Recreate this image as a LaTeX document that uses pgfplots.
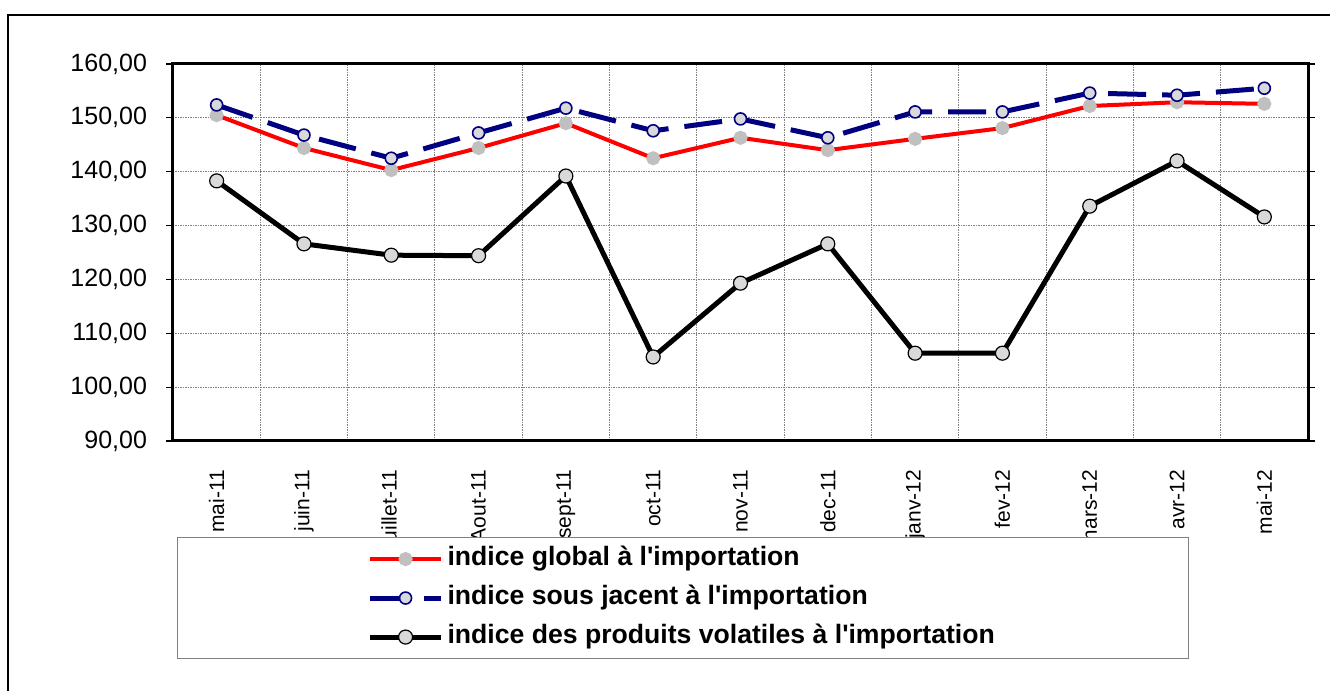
\documentclass[border=0pt]{standalone}
\usepackage{fontspec}
\setmainfont{Liberation Sans}
\usepackage{pgfplots}
\pgfplotsset{compat=1.18}
\definecolor{navyline}{HTML}{000080}
\definecolor{dotgray}{HTML}{C0C0C0}
\definecolor{markfill}{HTML}{D9D9D9}
\definecolor{gridgray}{HTML}{808080}
\newcommand{\q}{\textquotesingle}

\begin{document}
\begin{tikzpicture}
\useasboundingbox (0,0) rectangle (665pt,345.5pt);
\draw[line width=1pt] (4pt,0) -- (4pt,338pt) -- (665pt,338pt);
\begin{axis}[
  at={(86.5pt,313.5pt)},anchor=north west,
  scale only axis,width=567.5pt,height=188.5pt,
  xmin=-0.5,xmax=12.5,ymin=90,ymax=160,
  xtick={0,...,12},
  xticklabels={mai-11,juin-11,juillet-11,Aout-11,sept-11,oct-11,nov-11,dec-11,janv-12,fev-12,mars-12,avr-12,mai-12},
  xtick style={draw=none},
  minor xtick={-0.5,0.5,...,12.5},
  ytick={90,100,...,160},
  tick align=outside,
  major tick length=3.5pt,minor tick length=3pt,
  tick style={black,line width=0.6pt},
  xminorgrids=true,ymajorgrids=true,
  grid style={draw=gridgray,line width=0.5pt,dash pattern=on 0.75pt off 0.5pt},
  axis line style={line width=1.5pt},
  xticklabel style={rotate=90,anchor=east,font=\fontsize{10.5}{12}\selectfont},
  xticklabel shift=7.5pt,
  yticklabel style={font=\fontsize{12.5}{14}\selectfont,xshift=-6pt},
  /pgf/number format/.cd,fixed,zerofill,precision=2,use comma,assume math mode=true,
  /pgfplots/.cd,
  legend style={at={(0.0035,-0.2546)},anchor=north west,
    draw=gridgray,line width=0.6pt,fill=white,
    inner xsep=95pt,inner ysep=2.5pt,row sep=3pt,
    font=\bfseries\fontsize{13.3}{15}\selectfont,
    nodes={text height=9.5pt,text depth=3pt}},
  legend cell align=left,
  legend image code/.code={\draw[mark repeat=2,mark phase=2,#1]
    plot coordinates {(0pt,0pt) (17.75pt,0pt) (35.5pt,0pt)};},
]
\addplot[red,line width=2pt,mark=*,mark size=2.5pt,
  mark options={solid,fill=dotgray,draw=dotgray}]
  coordinates {(0,150.5) (1,144.4) (2,140.3) (3,144.4) (4,149.0) (5,142.5)
    (6,146.3) (7,144.0) (8,146.1) (9,148.1) (10,152.2) (11,152.9) (12,152.6)};
\addplot[navyline,line width=2.5pt,dash pattern=on 19pt off 8pt,mark=*,mark size=3pt,
  mark options={solid,fill=markfill,draw=navyline,line width=0.8pt}]
  coordinates {(0,152.4) (1,146.8) (2,142.5) (3,147.2) (4,151.8) (5,147.6)
    (6,149.8) (7,146.3) (8,151.1) (9,151.1) (10,154.6) (11,154.2) (12,155.5)};
\addplot[black,line width=2.5pt,mark=*,mark size=3.5pt,
  mark options={solid,fill=markfill,draw=black,line width=0.6pt}]
  coordinates {(0,138.3) (1,126.6) (2,124.5) (3,124.4) (4,139.2) (5,105.6)
    (6,119.3) (7,126.6) (8,106.3) (9,106.3) (10,133.6) (11,142.0) (12,131.6)};
\legend{indice global à l\q importation,indice sous jacent à l\q importation,indice des produits volatiles à l\q importation}
\end{axis}
\end{tikzpicture}
\end{document}
